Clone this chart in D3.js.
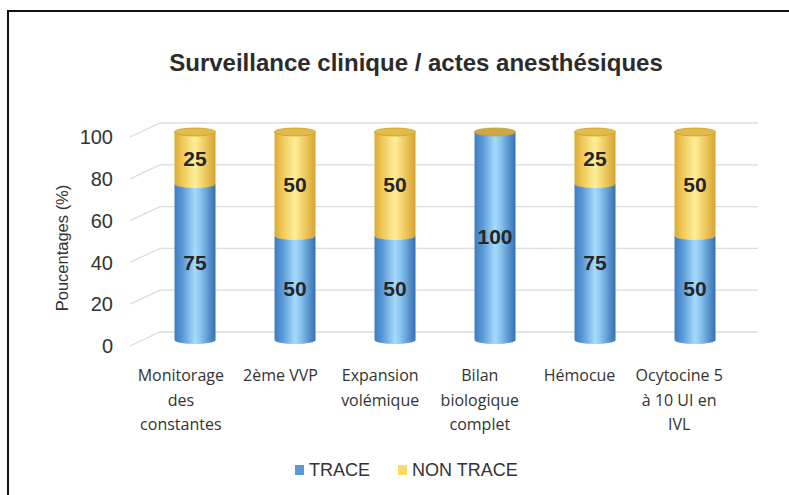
<!DOCTYPE html>
<html>
<head>
<meta charset="utf-8">
<script src="https://cdn.jsdelivr.net/npm/d3@7"></script>
<style>
  body { margin: 0; background: #fff; }
  svg { display: block; }
</style>
</head>
<body>
<div id="chart"></div>
<script>
// data
var categories = [
	["Monitorage", "des", "constantes"],
	["2ème VVP"],
	["Expansion", "volémique"],
	["Bilan", "biologique", "complet"],
	["Hémocue"],
	["Ocytocine 5", "à 10 UI en", "IVL"]
];
var traceValues = [75, 50, 50, 100, 75, 50];
var nonTraceValues = [25, 50, 50, 0, 25, 50];
var seriesNames = ["TRACE", "NON TRACE"];
var yTicks = [0, 20, 40, 60, 80, 100];

var width = 789, height = 495;

var svg = d3.select("#chart").append("svg")
	.attr("width", width)
	.attr("height", height);

var defs = svg.append("defs");

function cylGradient(id, stops) {
	var g = defs.append("linearGradient").attr("id", id)
		.attr("x1", "0%").attr("x2", "100%").attr("y1", "0%").attr("y2", "0%");
	stops.forEach(function(s) {
		g.append("stop").attr("offset", s[0]).attr("stop-color", s[1]);
	});
}
cylGradient("gBlue", [["0%", "#3f7cc0"], ["20%", "#5a9ad8"], ["50%", "#a6dafa"], ["62%", "#8cc8f2"], ["100%", "#3570b2"]]);
cylGradient("gYellow", [["0%", "#dcab35"], ["20%", "#efca58"], ["50%", "#fdee9c"], ["62%", "#f8dc78"], ["100%", "#d6a432"]]);

// frame
svg.append("path")
	.attr("d", "M8,495 L8,11 L789,11")
	.attr("fill", "none")
	.attr("stroke", "#111")
	.attr("stroke-width", 2);

// title
svg.append("text")
	.attr("x", 416)
	.attr("y", 71)
	.attr("text-anchor", "middle")
	.attr("font-family", "Liberation Sans, Arial, sans-serif")
	.attr("font-weight", "bold")
	.attr("font-size", 24)
	.attr("fill", "#2b2b2b")
	.text("Surveillance clinique / actes anesthésiques");

// 3 depths: front (labels), middle (bars), back (gridlines)
var yFront = d3.scaleLinear().domain([0, 100]).range([346, 137]);
var yBar = d3.scaleLinear().domain([0, 100]).range([340, 132]);
var yBack = d3.scaleLinear().domain([0, 100]).range([332, 123]);

var xFront = d3.scaleBand().domain(d3.range(categories.length)).range([131, 729]);
var xBar = d3.scaleBand().domain(d3.range(categories.length)).range([145, 745]).paddingInner(0.59).paddingOuter(0.295);

// gridlines
var grid = svg.append("g");
yTicks.forEach(function(t) {
	grid.append("path")
		.attr("d", "M130," + yFront(t) + " L160," + yBack(t) + " L758," + yBack(t))
		.attr("fill", "none")
		.attr("stroke", "#dcdcdc")
		.attr("stroke-width", 1.3);
});

// y tick labels
svg.append("g").selectAll("text")
	.data(yTicks)
	.enter().append("text")
	.attr("x", 113)
	.attr("y", function(d) { return yFront(d); })
	.attr("dy", "0.36em")
	.attr("text-anchor", "end")
	.attr("font-family", "Liberation Sans, Arial, sans-serif")
	.attr("font-size", 20)
	.attr("fill", "#333")
	.text(function(d) { return d; });

// y title
svg.append("text")
	.attr("transform", "translate(68,248) rotate(-90)")
	.attr("text-anchor", "middle")
	.attr("font-family", "Liberation Sans, Arial, sans-serif")
	.attr("font-size", 16.5)
	.attr("fill", "#333")
	.text("Poucentages (%)");

// bars as cylinders
var ry = 4;
var bw = xBar.bandwidth();
var stack = [];
categories.forEach(function(c, i) {
	stack.push({i: i, y0: 0, y1: traceValues[i], fill: "url(#gBlue)", v: traceValues[i]});
	stack.push({i: i, y0: traceValues[i], y1: traceValues[i] + nonTraceValues[i], fill: "url(#gYellow)", v: nonTraceValues[i]});
});

function segPath(d) {
	var x0 = xBar(d.i), x1 = x0 + bw, rx = bw / 2;
	var top = yBar(d.y1), bot = yBar(d.y0);
	return "M" + x0 + "," + top + " L" + x0 + "," + bot +
		" A" + rx + "," + ry + " 0 0 0 " + x1 + "," + bot +
		" L" + x1 + "," + top + " Z";
}

var bars = svg.append("g");
bars.selectAll("path.seg")
	.data(stack.filter(function(d) { return d.v > 0; }))
	.enter().append("path")
	.attr("class", "seg")
	.attr("d", segPath)
	.attr("fill", function(d) { return d.fill; });

// top caps
bars.selectAll("ellipse.cap")
	.data(categories.map(function(c, i) { return i; }))
	.enter().append("ellipse")
	.attr("class", "cap")
	.attr("cx", function(i) { return xBar(i) + bw / 2; })
	.attr("cy", function(i) { return yBar(traceValues[i] + nonTraceValues[i]); })
	.attr("rx", bw / 2)
	.attr("ry", ry)
	.attr("fill", function(i) { return nonTraceValues[i] > 0 ? "#e3bb48" : "#c9a845"; })
	.attr("stroke", "#c99d2c")
	.attr("stroke-width", 0.8);

// value labels
bars.selectAll("text.val")
	.data(stack.filter(function(d) { return d.v > 0; }))
	.enter().append("text")
	.attr("class", "val")
	.attr("x", function(d) { return xBar(d.i) + bw / 2; })
	.attr("y", function(d) { return yBar((d.y0 + d.y1) / 2); })
	.attr("dy", "0.36em")
	.attr("text-anchor", "middle")
	.attr("font-family", "Liberation Sans, Arial, sans-serif")
	.attr("font-weight", "bold")
	.attr("font-size", 21)
	.attr("fill", "#262626")
	.text(function(d) { return d.v; });

// category labels
var cat = svg.append("g").selectAll("text")
	.data(categories)
	.enter().append("text")
	.attr("x", function(d, i) { return xFront(i) + xFront.bandwidth() / 2; })
	.attr("y", 381)
	.attr("text-anchor", "middle")
	.attr("font-family", "Open Sans, sans-serif")
	.attr("font-size", 16)
	.attr("fill", "#333");
cat.each(function(d) {
	var t = d3.select(this);
	d.forEach(function(line, k) {
		t.append("tspan")
			.attr("x", t.attr("x"))
			.attr("dy", k === 0 ? 0 : 24.5)
			.text(line);
	});
});

// legend
var legendX = [295, 398];
var legendColors = ["#5b9bd5", "#ffd966"];
var legend = svg.append("g").selectAll("g")
	.data(seriesNames)
	.enter().append("g")
	.attr("transform", function(d, i) { return "translate(" + legendX[i] + ",470)"; });
legend.append("rect")
	.attr("x", 0).attr("y", -5)
	.attr("width", 9).attr("height", 10)
	.attr("fill", function(d, i) { return legendColors[i]; });
legend.append("text")
	.attr("x", 14)
	.attr("dy", "0.36em")
	.attr("font-family", "Liberation Sans, Arial, sans-serif")
	.attr("font-size", 18)
	.attr("fill", "#333")
	.text(function(d) { return d; });
</script>
</body>
</html>
